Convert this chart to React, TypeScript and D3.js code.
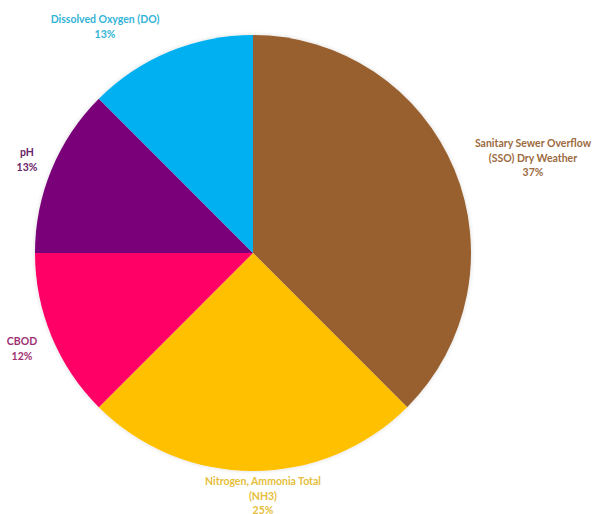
import React from "react";
import * as d3 from "d3";

const categories = [
  "Sanitary Sewer Overflow (SSO) Dry Weather",
  "Nitrogen, Ammonia Total (NH3)",
  "CBOD",
  "pH",
  "Dissolved Oxygen (DO)",
];
const values = [37.5, 25, 12.5, 12.5, 12.5];
const percentLabels = ["37%", "25%", "12%", "13%", "13%"];
const labelLines = [
  ["Sanitary Sewer Overflow", "(SSO) Dry Weather"],
  ["Nitrogen, Ammonia Total", "(NH3)"],
  ["CBOD"],
  ["pH"],
  ["Dissolved Oxygen (DO)"],
];
const sliceColors = ["#98602F", "#FFC000", "#FF0066", "#7A0079", "#00B0F0"];
const textColors = ["#9C6A3E", "#E5BE3A", "#9E2F72", "#6A2468", "#33B3D8"];
// label anchor positions (center x, first baseline y)
const labelPos: [number, number][] = [
  [533, 147],
  [263, 485],
  [22, 345],
  [27, 156],
  [105, 23],
];

export default function App() {
  const W = 595,
    H = 514;
  const cx = 253,
    cy = 253,
    r = 218;
  const pie = d3.pie<number>().sort(null).value((d) => d);
  const arcs = pie(values);
  const arcGen = d3.arc<d3.PieArcDatum<number>>().innerRadius(0).outerRadius(r);
  const lh = 14.5;
  return (
    <div style={{ position: "absolute", left: 0, top: 0 }}>
      <svg width={W} height={H} style={{ display: "block", background: "#fff" }}>
        <defs>
          <filter id="sh" x="-10%" y="-10%" width="120%" height="120%">
            <feGaussianBlur in="SourceAlpha" stdDeviation="2" />
            <feOffset dx="0" dy="0" result="b" />
            <feFlood floodColor="#000" floodOpacity="0.15" />
            <feComposite in2="b" operator="in" />
            <feMerge>
              <feMergeNode />
              <feMergeNode in="SourceGraphic" />
            </feMerge>
          </filter>
        </defs>
        <g transform={`translate(${cx},${cy})`} filter="url(#sh)">
          {arcs.map((a, i) => (
            <path key={categories[i]} d={arcGen(a) || ""} fill={sliceColors[i]} />
          ))}
        </g>
        {labelLines.map((lines, i) => {
          const [x, y] = labelPos[i];
          const all = [...lines, percentLabels[i]];
          return (
            <text
              key={i}
              x={x}
              y={y}
              textAnchor="middle"
              fill={textColors[i]}
              fontFamily="Lato, 'Open Sans', sans-serif"
              fontWeight="bold"
              fontSize={10.5}
            >
              {all.map((t, j) => (
                <tspan key={j} x={x} y={y + j * lh}>
                  {t}
                </tspan>
              ))}
            </text>
          );
        })}
      </svg>
    </div>
  );
}
